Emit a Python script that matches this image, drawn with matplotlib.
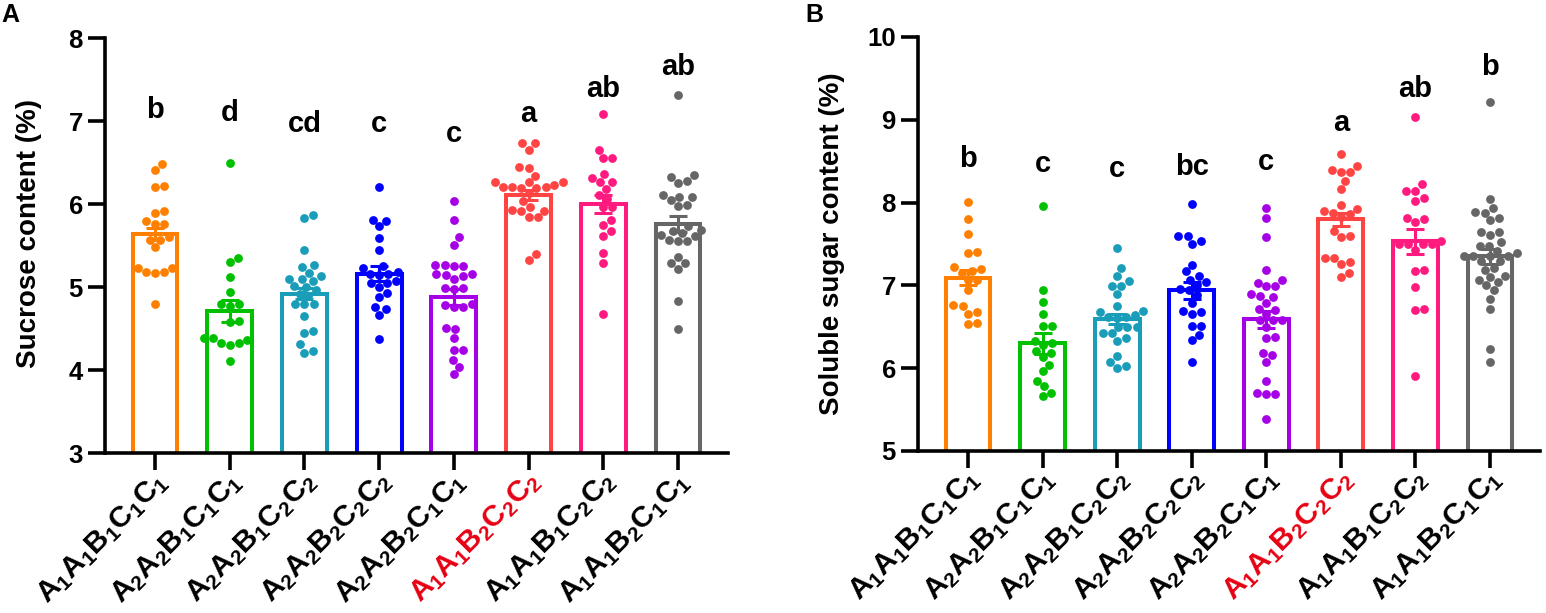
import re
import numpy as np
import matplotlib
matplotlib.use('Agg')
import matplotlib.pyplot as plt
from matplotlib.transforms import ScaledTranslation

plt.rcParams['font.family'] = ['Liberation Sans', 'DejaVu Sans']
plt.rcParams['font.weight'] = 'bold'
plt.rcParams['mathtext.fontset'] = 'custom'
plt.rcParams['mathtext.bf'] = 'Liberation Sans:bold'
plt.rcParams['mathtext.rm'] = 'Liberation Sans:bold'

# genotypes (x categories)
genotypes = ['A1A1B1C1C1', 'A2A2B1C1C1', 'A2A2B1C2C2', 'A2A2B2C2C2',
             'A2A2B2C1C1', 'A1A1B2C2C2', 'A1A1B1C2C2', 'A1A1B2C1C1']
colors = ['#FF8000', '#00C000', '#1A9DB8', '#0000FF',
          '#A500E6', '#FF4444', '#FF1A80', '#666666']
highlight = 'A1A1B2C2C2'

# sucrose content (%), individual values
suc_1 = [6.48, 6.41, 6.22, 6.20, 5.89, 5.92, 5.76, 5.76, 5.79, 5.57, 5.60, 5.57,
         5.48, 5.23, 5.18, 5.17, 5.18, 5.23, 4.80]
suc_2 = [6.49, 5.30, 5.35, 5.12, 4.94, 4.79, 4.77, 4.79, 4.58, 4.59, 4.39, 4.33,
         4.39, 4.30, 4.36, 4.32, 4.11]
suc_3 = [5.83, 5.87, 5.45, 5.26, 5.24, 5.17, 5.13, 5.07, 5.10, 5.10, 5.01, 5.00,
         4.96, 4.92, 4.89, 4.79, 4.79, 4.80, 4.65, 4.45, 4.47, 4.31, 4.21, 4.23]
suc_4 = [6.20, 5.81, 5.80, 5.73, 5.59, 5.44, 5.23, 5.25, 5.16, 5.18, 5.16, 5.15,
         5.05, 5.07, 5.00, 5.05, 4.93, 4.88, 4.74, 4.76, 4.66, 4.37]
suc_5 = [6.04, 5.81, 5.60, 5.51, 5.25, 5.26, 5.27, 5.25, 5.16, 5.10, 5.13, 5.16,
         5.15, 4.99, 4.99, 4.98, 4.79, 4.76, 4.76, 4.78, 4.50, 4.51, 4.39, 4.24,
         4.24, 4.12, 4.04, 3.95]
suc_6 = [6.73, 6.73, 6.65, 6.44, 6.43, 6.34, 6.26, 6.27, 6.27, 6.23, 6.19, 6.20,
         6.20, 6.19, 6.20, 6.13, 6.04, 5.92, 5.93, 5.91, 5.96, 5.84, 5.84, 5.40, 5.33]
suc_7 = [7.08, 6.65, 6.55, 6.56, 6.36, 6.27, 6.31, 6.26, 6.18, 6.11, 6.06, 5.96,
         5.96, 5.81, 5.75, 5.67, 5.61, 5.41, 5.29, 4.68]
suc_8 = [7.31, 6.35, 6.32, 6.28, 6.25, 6.11, 6.09, 6.08, 6.05, 5.99, 5.98, 5.73,
         5.69, 5.67, 5.65, 5.63, 5.57, 5.55, 5.55, 5.61, 5.36, 5.29, 5.29, 5.22,
         4.83, 4.50]
suc_mean = [5.64, 4.71, 4.92, 5.16, 4.88, 6.11, 6.00, 5.76]
suc_sem = [0.07, 0.13, 0.07, 0.09, 0.10, 0.06, 0.11, 0.10]
suc_letters = ['b', 'd', 'cd', 'c', 'c', 'a', 'ab', 'ab']
suc_letter_y = [7.04, 7.00, 6.87, 6.87, 6.75, 6.99, 7.29, 7.55]

# soluble sugar content (%), individual values
sug_1 = [8.01, 7.80, 7.62, 7.40, 7.39, 7.22, 7.20, 7.15, 7.17, 7.07, 7.07, 6.95,
         6.75, 6.76, 6.66, 6.68, 6.53, 6.54]
sug_2 = [7.96, 6.94, 6.80, 6.65, 6.51, 6.51, 6.33, 6.28, 6.30, 6.21, 6.18, 6.13,
         6.04, 5.96, 5.85, 5.78, 5.70, 5.67]
sug_3 = [7.45, 7.21, 7.11, 7.05, 6.99, 6.99, 6.89, 6.75, 6.68, 6.69, 6.64, 6.62,
         6.61, 6.62, 6.50, 6.50, 6.50, 6.42, 6.42, 6.36, 6.33, 6.15, 6.07, 6.03, 6.00]
sug_4 = [7.98, 7.60, 7.60, 7.53, 7.50, 7.25, 7.17, 7.11, 7.07, 7.04, 7.00, 6.94,
         6.96, 6.88, 6.79, 6.68, 6.66, 6.69, 6.51, 6.51, 6.40, 6.34, 6.07]
sug_5 = [7.93, 7.81, 7.59, 7.19, 7.03, 6.99, 7.07, 6.99, 6.87, 6.90, 6.86, 6.79,
         6.72, 6.70, 6.66, 6.58, 6.58, 6.58, 6.50, 6.38, 6.36, 6.18, 6.16, 6.07,
         5.85, 5.69, 5.69, 5.70, 5.39]
sug_6 = [8.59, 8.44, 8.39, 8.37, 8.37, 8.26, 8.16, 7.97, 7.90, 7.92, 7.88, 7.86,
         7.83, 7.66, 7.60, 7.59, 7.33, 7.28, 7.26, 7.33, 7.15, 7.10]
sug_7 = [9.03, 8.22, 8.14, 8.14, 8.05, 8.02, 7.81, 7.76, 7.80, 7.53, 7.50, 7.50,
         7.50, 7.50, 7.43, 7.17, 7.19, 6.98, 6.70, 6.72, 5.91]
sug_8 = [9.21, 8.04, 7.93, 7.89, 7.88, 7.81, 7.79, 7.65, 7.65, 7.61, 7.52, 7.47,
         7.47, 7.42, 7.39, 7.35, 7.35, 7.35, 7.35, 7.29, 7.29, 7.21, 7.19, 7.11,
         7.10, 7.07, 7.04, 7.00, 6.94, 6.84, 6.72, 6.23, 6.08]
sug_mean = [7.09, 6.30, 6.59, 6.94, 6.59, 7.80, 7.53, 7.35]
sug_sem = [0.09, 0.13, 0.06, 0.10, 0.10, 0.08, 0.15, 0.09]
sug_letters = ['b', 'c', 'c', 'bc', 'c', 'a', 'ab', 'b']
sug_letter_y = [8.43, 8.37, 8.31, 8.33, 8.39, 8.86, 9.28, 9.54]


def swarm_offsets(ax, xc, ys, diam):
    # simple beeswarm in pixel space
    pts = ax.transData.transform(np.column_stack([np.full(len(ys), xc), ys]))
    order = np.argsort(pts[:, 1])
    placed = []
    offs = np.zeros(len(ys))
    for i in order:
        py = pts[i, 1]
        cands = [0.0]
        for ox, oy in placed:
            dy = py - oy
            if abs(dy) < diam:
                dx = np.sqrt(diam ** 2 - dy ** 2)
                cands += [ox + dx, ox - dx]
        cands.sort(key=abs)
        best = cands[-1]
        for c in cands:
            if all((c - ox) ** 2 + (py - oy) ** 2 >= diam ** 2 - 1e-6 for ox, oy in placed):
                best = c
                break
        placed.append((best, py))
        offs[i] = best
    xy = np.column_stack([pts[:, 0] + offs, pts[:, 1]])
    return ax.transData.inverted().transform(xy)[:, 0]


def tick_label(g):
    return '$\\mathbf{' + re.sub(r'([A-Z])(\d)', r'\1_{\2}', g) + '}$'


fig = plt.figure(figsize=(15.46, 6.13), dpi=100)
ax1 = fig.add_axes([0.0679, 0.261, 0.403, 0.677])
ax2 = fig.add_axes([0.5938, 0.2643, 0.4023, 0.6754])

panels = [
    (ax1, [suc_1, suc_2, suc_3, suc_4, suc_5, suc_6, suc_7, suc_8], suc_mean, suc_sem,
     suc_letters, suc_letter_y, (3, 8), 'Sucrose content (%)', (-0.101, 0.53)),
    (ax2, [sug_1, sug_2, sug_3, sug_4, sug_5, sug_6, sug_7, sug_8], sug_mean, sug_sem,
     sug_letters, sug_letter_y, (5, 10), 'Soluble sugar content (%)', (-0.117, 0.5)),
]

shift = ScaledTranslation(8 / 100, 0, fig.dpi_scale_trans)

x = np.arange(len(genotypes))
for ax, groups, means, sems, letters, letter_y, ylim, ylabel, labxy in panels:
    ax.set_xlim(-0.67, 7.67)
    ax.set_ylim(*ylim)
    ax.bar(x, means, width=0.6, facecolor='white', edgecolor=colors, linewidth=2.9, zorder=1)
    for i, vals in enumerate(groups):
        xs = swarm_offsets(ax, x[i], vals, 9.2)
        ax.scatter(xs, vals, s=40, color=colors[i], linewidths=0, zorder=2)
        ax.errorbar(x[i], means[i], yerr=sems[i], fmt='none', ecolor=colors[i],
                    elinewidth=2.2, capsize=6.5, capthick=2.2, zorder=3)
        ax.text(x[i], letter_y[i], letters[i], ha='center', va='baseline',
                fontsize=21, fontweight='bold')
    ax.set_yticks(range(ylim[0], ylim[1] + 1))
    ax.set_xticks(x)
    for s in ['top', 'right']:
        ax.spines[s].set_visible(False)
    for s in ['left', 'bottom']:
        ax.spines[s].set_linewidth(2.6)
    ax.tick_params(axis='both', direction='out', length=12, width=2.6)
    ax.tick_params(axis='y', labelsize=18.5, pad=4)
    ax.tick_params(axis='x', pad=5)
    ax.set_xticklabels([tick_label(g) for g in genotypes], rotation=45, ha='right',
                       va='center', rotation_mode='anchor', fontsize=21.5)
    for lab, g in zip(ax.get_xticklabels(), genotypes):
        lab.set_transform(lab.get_transform() + shift)
        if g == highlight:
            lab.set_color('#E60012')
    ax.set_ylabel(ylabel, fontsize=20, fontweight='bold')
    ax.yaxis.set_label_coords(*labxy)

fig.text(0.001, 0.976, 'A', fontsize=18, fontweight='bold', va='center')
fig.text(0.5207, 0.976, 'B', fontsize=18, fontweight='bold', va='center')

fig.savefig('out.png', dpi=100)
